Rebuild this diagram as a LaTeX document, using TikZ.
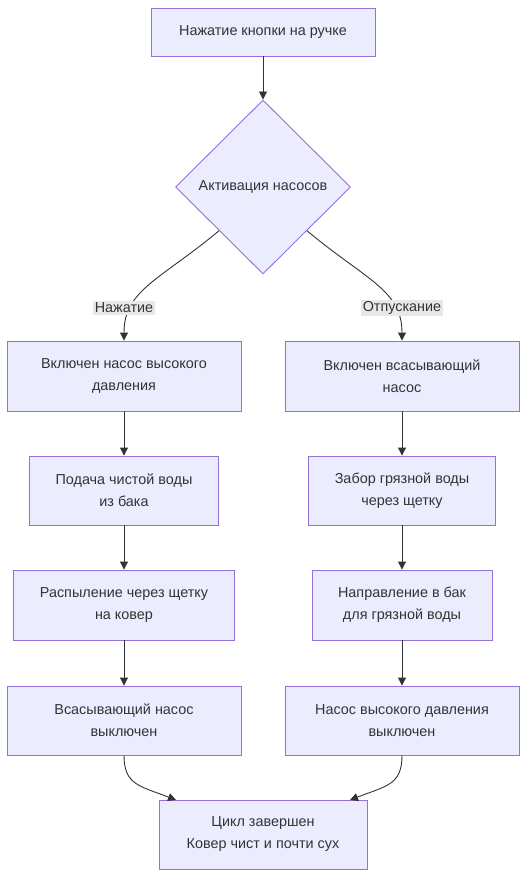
\documentclass[tikz,border=0pt]{standalone}
\usepackage{fontspec}
\setmainfont{Liberation Sans}
\usetikzlibrary{shapes.geometric,arrows.meta}
\definecolor{nodefill}{HTML}{ECECFF}
\definecolor{nodeline}{HTML}{9370DB}
\definecolor{edgeline}{HTML}{333333}
\definecolor{labelbg}{HTML}{E8E8E8}
\definecolor{txt}{HTML}{333333}
\tikzset{
  box/.style={draw=nodeline, fill=nodefill, line width=0.9pt, rectangle, inner sep=0pt,
    align=center, text=txt, font=\fontsize{14.4}{22}\selectfont},
  dbox/.style={draw=nodeline, fill=nodefill, line width=0.9pt, diamond, aspect=1, inner sep=0pt,
    minimum width=175pt, minimum height=174pt, text=txt, font=\fontsize{14.4}{22}\selectfont},
  elabel/.style={fill=labelbg, text=txt, inner sep=1.5pt, font=\fontsize{14.4}{18}\selectfont},
  conn/.style={draw=edgeline, line width=0.9pt, -{Triangle[length=8pt,width=8pt]}}
}
\begin{document}
\begin{tikzpicture}[x=1pt,y=-1pt]
\useasboundingbox (0,0) rectangle (525,877);
\node[box, minimum width=224pt, minimum height=48pt] (top) at (263,32) {Нажатие кнопки на ручке};
\node[dbox] (dia) at (263,187) {Активация насосов};
\node[box, minimum width=234pt, minimum height=70pt] (l1) at (124,376) {Включен насос высокого\\давления};
\node[box, minimum width=234pt, minimum height=70pt] (r1) at (402,376) {Включен всасывающий\\насос};
\node[box, minimum width=189pt, minimum height=69pt] (l2) at (124,490.5) {Подача чистой воды\\из бака};
\node[box, minimum width=187pt, minimum height=69pt] (r2) at (402,490.5) {Забор грязной воды\\через щетку};
\node[box, minimum width=221pt, minimum height=70pt] (l3) at (124,605) {Распыление через щетку\\на ковер};
\node[box, minimum width=180pt, minimum height=70pt] (r3) at (402,605) {Направление в бак\\для грязной воды};
\node[box, minimum width=234pt, minimum height=69pt] (l4) at (124,720.5) {Всасывающий насос\\выключен};
\node[box, minimum width=234pt, minimum height=69pt] (r4) at (402,720.5) {Насос высокого давления\\выключен};
\node[box, minimum width=208pt, minimum height=69pt] (fin) at (263,834.5) {Цикл завершен\\Ковер чист и почти сух};

\draw[conn] (top) -- (dia);
\draw[conn] (dia.south west) .. controls (160,280) and (124,290) .. (l1.north);
\draw[conn] (dia.south east) .. controls (366,280) and (402,290) .. (r1.north);
\node[elabel] (lab1) at (124,308) {Нажатие};
\node[elabel] (lab2) at (402,308) {Отпускание};

\draw[conn] (l1) -- (l2);
\draw[conn] (l2) -- (l3);
\draw[conn] (l3) -- (l4);
\draw[conn] (r1) -- (r2);
\draw[conn] (r2) -- (r3);
\draw[conn] (r3) -- (r4);

\coordinate (fl) at (176,800);
\coordinate (fr) at (350,800);
\draw[conn] (l4.south) .. controls (124,785) and (140,786) .. (fl);
\draw[conn] (r4.south) .. controls (402,785) and (386,786) .. (fr);
\end{tikzpicture}
\end{document}
